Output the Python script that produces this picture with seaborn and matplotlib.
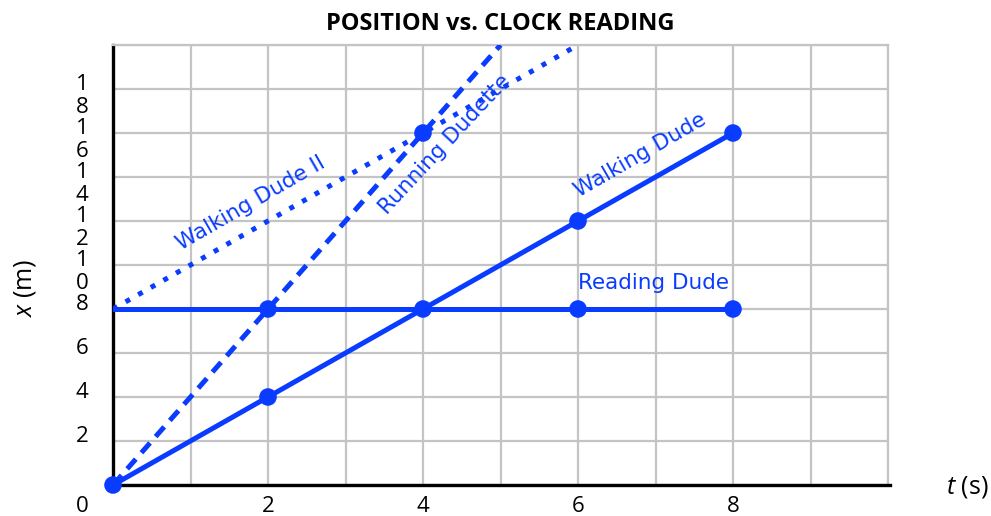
import matplotlib
matplotlib.use('Agg')

import matplotlib.pyplot as plt
import matplotlib.transforms as mtransforms
import seaborn as sns
import pandas as pd

# --- data ---
walk_t = [0, 2, 4, 6, 8]
walk_x = [0, 4, 8, 12, 16]

read_t = [0, 2, 4, 6, 8]
read_x = [8, 8, 8, 8, 8]

run_t = [0, 2, 4, 5]
run_x = [0, 8, 16, 20]

walk2_t = [0, 4, 6]
walk2_x = [8, 16, 20]

# dots drawn on the chart
dot_t = [0, 2, 4, 6, 8, 2, 6, 8, 4]
dot_x = [0, 4, 8, 12, 16, 8, 8, 8, 16]

y_ticks = [2, 4, 6, 8, 10, 12, 14, 16, 18]
y_tick_labels = ["2", "4", "6", "8", "1\n0", "1\n2", "1\n4", "1\n6", "1\n8"]
x_label_ticks = [2, 4, 6, 8]

BLUE = "#0a3cff"

sns.set_style("white")
plt.rcParams['font.family'] = ['Open Sans', 'DejaVu Sans']
plt.rcParams['mathtext.fontset'] = 'custom'
plt.rcParams['mathtext.it'] = 'Open Sans:italic'
plt.rcParams['mathtext.rm'] = 'Open Sans'
plt.rcParams['text.color'] = 'black'
plt.rcParams['xtick.color'] = 'black'
plt.rcParams['ytick.color'] = 'black'
plt.rcParams['axes.titlecolor'] = 'black'

fig = plt.figure(figsize=(9.91, 5.16), dpi=100)
ax = fig.add_axes([113 / 991, 31 / 516, 775 / 991, 440 / 516])

lines = [
    (walk_t, walk_x, '-'),
    (read_t, read_x, '-'),
    (run_t, run_x, (0, (2.6, 1.7))),
    (walk2_t, walk2_x, (0, (1, 1.9))),
]
for t, x, ls in lines:
    df = pd.DataFrame({"t": t, "x": x})
    sns.lineplot(data=df, x="t", y="x", ax=ax, color=BLUE, linewidth=3.6,
                 linestyle=ls, zorder=3)

sns.scatterplot(x=dot_t, y=dot_x, ax=ax, color=BLUE, s=160, edgecolor='none',
                zorder=4, clip_on=False)

ax.set_xlim(0, 10)
ax.set_ylim(0, 20)
ax.set_xticks(range(0, 11))
ax.set_yticks(range(0, 21, 2))
ax.grid(True, color="#c4c4c4", linewidth=1.6)
ax.set_axisbelow(True)
for side in ["top", "right"]:
    ax.spines[side].set_color("#c4c4c4")
    ax.spines[side].set_linewidth(1.6)
for side in ["left", "bottom"]:
    ax.spines[side].set_color("black")
    ax.spines[side].set_linewidth(2.4)
    ax.spines[side].set_zorder(2.5)
ax.spines["bottom"].set_bounds(0, 10.03)

ax.set_xticklabels([str(v) if v in x_label_ticks else "" for v in range(0, 11)],
                   fontsize=16, color='black')
ax.set_yticklabels([])
ax.tick_params(length=0)
ax.tick_params(axis='x', pad=8)
ax.set_xlabel("")
ax.set_ylabel("")

# stacked y tick labels
ytrans = mtransforms.offset_copy(ax.get_yaxis_transform(), fig=fig, x=-31, y=15, units='dots')
for v, lab in zip(y_ticks, y_tick_labels):
    ax.text(0, v, lab, transform=ytrans, ha='center', va='top', fontsize=16,
            linespacing=1.15, color='black')
otrans = mtransforms.offset_copy(ax.transData, fig=fig, x=-31, y=-21, units='dots')
ax.text(0, 0, "0", transform=otrans, ha='center', va='center', fontsize=16, color='black')

ax.set_title("POSITION vs. CLOCK READING", fontsize=17, fontweight='bold', pad=11,
             color='black')

fig.text(25 / 991, 1 - 288 / 516, "$x$ (m)", rotation=90, ha='center', va='center',
         fontsize=18, color='black')
fig.text(967 / 991, 1 - 487 / 516, "$t$ (s)", ha='center', va='center', fontsize=18,
         color='black')

# curve names
lab_kw = dict(color=BLUE, fontsize=15.5, family='DejaVu Sans', ha='center',
              va='center', rotation_mode='anchor')
ax.text(1.78, 12.8, "Walking Dude II", rotation=30, **lab_kw)
ax.text(4.28, 15.5, "Running Dudette", rotation=47, **lab_kw)
ax.text(6.8, 15.0, "Walking Dude", rotation=30, **lab_kw)
ax.text(6.97, 9.2, "Reading Dude", rotation=0, **lab_kw)

fig.savefig("out.png", dpi=100)
